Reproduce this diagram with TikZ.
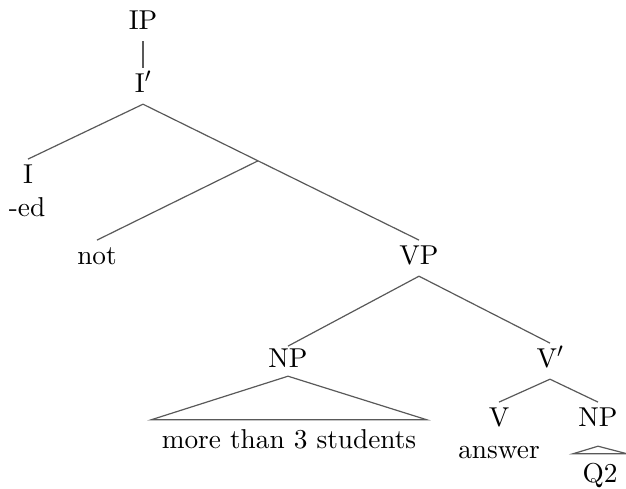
\documentclass[tikz,border=0pt]{standalone}
\usepackage{fontspec}
\setmainfont{lmroman10-regular}[Extension=.otf]
\usetikzlibrary{calc}
\begin{document}
\begin{tikzpicture}[x=1pt,y=-1pt,
  lab/.style={font=\fontsize{27.3}{31}\selectfont, text height=18.7pt, text depth=7pt, inner sep=5pt, anchor=base},
  edge/.style={draw=black!65, line width=1.2pt}]
\useasboundingbox (0,0) rectangle (626,488);
\node[lab] (ip) at (143,29) {IP};
\node[lab] (ib) at (143,92) {I$'$};
\node[lab] (i) at (28,183) {I};
\node[lab] (ed) at (27,216) {-ed};
\node[lab] (not) at (97,264) {not};
\node[lab] (vp) at (419,264) {VP};
\node[lab, inner ysep=2pt] (np) at (288,367) {NP};
\node[lab] (vb) at (550,367) {V$'$};
\node[lab] (v) at (499,426) {V};
\node[lab] (np2) at (598,426) {NP};
\node[lab] (ans) at (499,458) {answer};
\node[lab, inner xsep=10.5pt, inner ysep=9.3pt] (mt) at (289,448) {more than 3 students};
\node[lab, inner xsep=9.5pt, inner ysep=9.3pt] (q2) at (600,482) {Q2};
\coordinate (br) at ($(ib.south)!0.4167!(vp.north)$);
\coordinate (q2top) at ([yshift=-8pt]np2.south);
\draw[edge] (ip.south) -- (ib.north);
\draw[edge] (ib.south) -- (i.north);
\draw[edge] (ib.south) -- (vp.north);
\draw[edge] (br) -- (not.north);
\draw[edge] (vp.south) -- (np.north);
\draw[edge] (vp.south) -- (vb.north);
\draw[edge] (np.south) -- (mt.north west) -- (mt.north east) -- cycle;
\draw[edge] (vb.south) -- (v.north);
\draw[edge] (vb.south) -- (np2.north);
\draw[edge] (q2top) -- (q2.north west) -- (q2.north east) -- cycle;
\end{tikzpicture}
\end{document}
